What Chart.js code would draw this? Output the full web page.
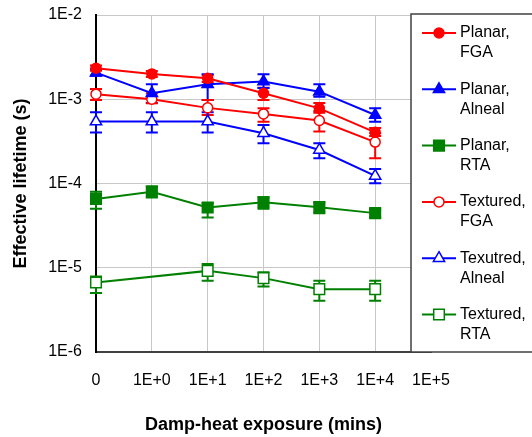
<!DOCTYPE html>
<html><head><meta charset="utf-8">
<script src="https://cdn.jsdelivr.net/npm/chart.js@4/dist/chart.umd.min.js"></script>
<style>html,body{margin:0;padding:0;background:#fff}#wrap{width:532px;height:437px;position:relative}</style>
</head><body><div id="wrap"><canvas id="c" width="532" height="437"></canvas></div>
<script>
// ---- data ----
const categories = ['0','1E+0','1E+1','1E+2','1E+3','1E+4','1E+5'];
const yTickValues = [1e-6,1e-5,1e-4,1e-3,1e-2];

const planarFGA      = [2.33e-3, 2.0e-3, 1.77e-3, 1.18e-3, 7.8e-4, 4.05e-4];
const planarFGAHi    = [2.51e-3, 2.17e-3, 1.94e-3, 1.37e-3, 9.0e-4, 4.57e-4];
const planarFGALo    = [2.18e-3, 1.84e-3, 1.60e-3, 9.8e-4, 6.9e-4, 3.67e-4];

const planarAlneal   = [2.07e-3, 1.18e-3, 1.51e-3, 1.62e-3, 1.23e-3, 6.5e-4];
const planarAlnealHi = [2.30e-3, 1.51e-3, 1.98e-3, 1.98e-3, 1.51e-3, 7.8e-4];
const planarAlnealLo = [1.90e-3, 9.0e-4, 9.8e-4, 1.36e-3, 1.07e-3, 5.42e-4];

const planarRTA      = [6.56e-5, 8.0e-5, 5.18e-5, 6.0e-5, 5.24e-5, 4.45e-5];
const planarRTAHi    = [8.0e-5, 9.2e-5, 5.83e-5, 6.87e-5, 5.93e-5, 4.96e-5];
const planarRTALo    = [5.0e-5, 6.8e-5, 3.94e-5, 5.0e-5, 4.45e-5, 3.94e-5];

const texturedFGA    = [1.15e-3, 1.0e-3, 7.9e-4, 6.7e-4, 5.6e-4, 3.1e-4];
const texturedFGAHi  = [1.32e-3, 1.18e-3, 9.8e-4, 7.8e-4, 7.26e-4, 3.95e-4];
const texturedFGALo  = [9.8e-4, 8.97e-4, 6.52e-4, 5.42e-4, 4.13e-4, 2.0e-4];

const texturedAlneal   = [5.43e-4, 5.43e-4, 5.43e-4, 3.95e-4, 2.5e-4, 1.23e-4];
const texturedAlnealHi = [7.02e-4, 7.02e-4, 7.02e-4, 4.95e-4, 3.0e-4, 1.49e-4];
const texturedAlnealLo = [4.02e-4, 4.02e-4, 4.02e-4, 3.0e-4, 2.0e-4, 1.01e-4];

const texturedRTA    = [6.68e-6, null, 9.18e-6, 7.53e-6, 5.57e-6, 5.57e-6];
const texturedRTAHi  = [7.87e-6, null, 1.11e-5, 8.87e-6, 7.0e-6, 7.0e-6];
const texturedRTALo  = [5.0e-6, null, 7.0e-6, 5.98e-6, 4.05e-6, 4.05e-6];

const seriesLabels = [['Planar,','FGA'],['Planar,','Alneal'],['Planar,','RTA'],['Textured,','FGA'],['Texutred,','Alneal'],['Textured,','RTA']];
const xTitle = 'Damp-heat exposure (mins)';
const yTitle = 'Effective lifetime (s)';

// ---- styling ----
const RED='#ff0000', BLUE='#0000ff', GREEN='#008000';
const FONT = "'Liberation Sans', Arial, sans-serif";
function ds(label, data, hi, lo, color, style, filled, radius){
  return {label, data, errHi: hi, errLo: lo, borderColor: color, backgroundColor: filled?color:'#fff',
    pointStyle: style, pointRadius: radius, pointHoverRadius: radius, pointBorderColor: color,
    pointBackgroundColor: filled?color:'#fff', pointBorderWidth: 1.5, borderWidth: 2,
    spanGaps: true, tension: 0};
}
const datasets = [
  ds(seriesLabels[0], planarFGA, planarFGAHi, planarFGALo, RED, 'circle', true, 5),
  ds(seriesLabels[1], planarAlneal, planarAlnealHi, planarAlnealLo, BLUE, 'triangle', true, 6.5),
  ds(seriesLabels[2], planarRTA, planarRTAHi, planarRTALo, GREEN, 'rect', true, 7.5),
  ds(seriesLabels[3], texturedFGA, texturedFGAHi, texturedFGALo, RED, 'circle', false, 5),
  ds(seriesLabels[4], texturedAlneal, texturedAlnealHi, texturedAlnealLo, BLUE, 'triangle', false, 6.5),
  ds(seriesLabels[5], texturedRTA, texturedRTAHi, texturedRTALo, GREEN, 'rect', false, 7.5),
];

const errPlugin = {
  id: 'errbars',
  beforeDatasetsDraw(chart){
    const {ctx, scales:{x, y}} = chart;
    ctx.save();
    chart.data.datasets.forEach(d => {
      ctx.strokeStyle = d.borderColor; ctx.lineWidth = 2;
      d.data.forEach((v, j) => {
        if (v == null) return;
        const px = x.getPixelForValue(j);
        const yh = y.getPixelForValue(d.errHi[j]);
        const yl = y.getPixelForValue(d.errLo[j]);
        ctx.beginPath();
        ctx.moveTo(px, yh); ctx.lineTo(px, yl);
        ctx.moveTo(px-6, yh); ctx.lineTo(px+6, yh);
        ctx.moveTo(px-6, yl); ctx.lineTo(px+6, yl);
        ctx.stroke();
      });
    });
    ctx.restore();
  }
};

const legendPlugin = {
  id: 'boxlegend',
  afterDraw(chart){
    const ctx = chart.ctx;
    ctx.save();
    const bx = 411, by = 14, bw = 140, bh = 338;
    ctx.fillStyle = '#fff';
    ctx.fillRect(bx, by, bw, bh);
    ctx.strokeStyle = '#404040'; ctx.lineWidth = 1.5;
    ctx.strokeRect(bx, by, bw, bh);
    chart.data.datasets.forEach((d, i) => {
      const yc = 33 + i * 56.3;
      ctx.strokeStyle = d.borderColor; ctx.lineWidth = 2;
      ctx.beginPath(); ctx.moveTo(422, yc); ctx.lineTo(456, yc); ctx.stroke();
      ctx.fillStyle = d.pointBackgroundColor;
      ctx.lineWidth = d.pointBorderWidth;
      Chart.helpers.drawPoint(ctx, {pointStyle: d.pointStyle, radius: d.pointRadius, borderWidth: d.pointBorderWidth, rotation: 0}, 439, yc);
      ctx.fillStyle = '#000';
      ctx.font = '16px ' + FONT;
      ctx.textBaseline = 'middle'; ctx.textAlign = 'left';
      ctx.fillText(d.label[0], 460, yc);
      ctx.fillText(d.label[1], 460, yc + 20);
    });
    ctx.restore();
  }
};

new Chart(document.getElementById('c'), {
  type: 'line',
  data: { labels: categories, datasets },
  plugins: [errPlugin, legendPlugin],
  options: {
    responsive: false, animation: false, devicePixelRatio: 1,
    layout: { padding: { left: 0, right: 101, top: 15, bottom: 0 } },
    plugins: { legend: { display: false }, tooltip: { enabled: false } },
    scales: {
      x: {
        type: 'category', offset: false,
        grid: { color: '#c8c8c8', lineWidth: 1, drawTicks: false },
        border: { color: '#404040', width: 2 },
        ticks: { color: '#000', font: { family: FONT, size: 16 }, padding: 19, maxRotation: 0, autoSkip: false },
        title: { display: true, text: xTitle, color: '#000', font: { family: FONT, size: 18, weight: 'bold' }, padding: { top: 0, bottom: 1 } },
        afterFit(s){ s.height = 85; }
      },
      y: {
        type: 'logarithmic', min: 1e-6, max: 1e-2,
        afterBuildTicks(s){ s.ticks = yTickValues.map(v => ({ value: v })); },
        grid: { color: '#c8c8c8', lineWidth: 1, drawTicks: false },
        border: { color: '#000', width: 2 },
        ticks: { color: '#000', font: { family: FONT, size: 16 }, padding: 14,
          callback(v){ return '1E' + Math.round(Math.log10(v)); } },
        title: { display: true, text: yTitle, color: '#000', font: { family: FONT, size: 18, weight: 'bold' }, padding: { top: 10, bottom: 0 } },
        afterFit(s){ s.width = 96; s.paddingTop = 0; s.paddingBottom = 0; }
      }
    }
  }
});
</script></body></html>
